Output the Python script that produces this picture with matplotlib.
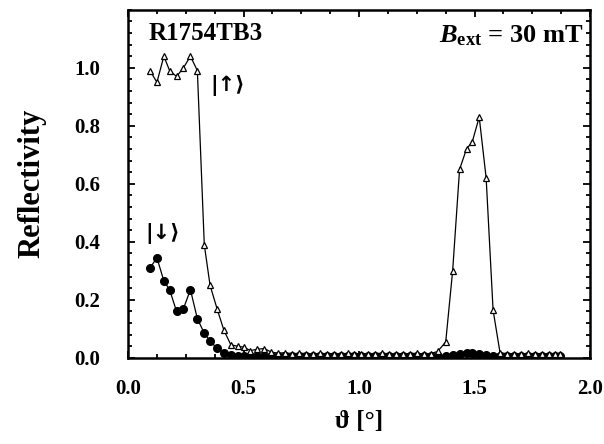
import numpy as np
import matplotlib
matplotlib.use("Agg")
import matplotlib.pyplot as plt
from matplotlib.ticker import MultipleLocator

# angle grid (deg), shared by both spin channels
theta = [0.095, 0.125, 0.155, 0.18, 0.21, 0.24, 0.27, 0.30, 0.33, 0.355,
         0.385, 0.415, 0.445, 0.475, 0.50, 0.53, 0.56, 0.59, 0.62, 0.65,
         0.68, 0.71, 0.74, 0.77, 0.80, 0.83, 0.86, 0.89, 0.92, 0.95,
         0.98, 1.01, 1.04, 1.07, 1.10, 1.13, 1.16, 1.19, 1.22, 1.25,
         1.28, 1.31, 1.34, 1.375, 1.405, 1.435, 1.465, 1.49, 1.52, 1.55,
         1.58, 1.61, 1.64, 1.67, 1.70, 1.73, 1.76, 1.79, 1.82, 1.85, 1.87]

# spin up |up>  (open triangles)
refl_up = [0.99, 0.95, 1.04, 0.99, 0.97, 1.00, 1.04, 0.99, 0.39, 0.25,
           0.17, 0.095, 0.045, 0.040, 0.037, 0.025, 0.030, 0.032, 0.020, 0.016,
           0.018, 0.014, 0.016, 0.015, 0.013, 0.016, 0.014, 0.015, 0.013, 0.016,
           0.014, 0.015, 0.013, 0.015, 0.016, 0.014, 0.013, 0.015, 0.014, 0.016,
           0.013, 0.015, 0.022, 0.055, 0.30, 0.65, 0.72, 0.745, 0.83, 0.62,
           0.165, 0.018, 0.014, 0.015, 0.013, 0.016, 0.014, 0.015, 0.013, 0.014, 0.012]

# spin down |down>  (filled circles)
refl_dn = [0.31, 0.345, 0.265, 0.235, 0.16, 0.17, 0.235, 0.135, 0.085, 0.058,
           0.033, 0.016, 0.010, 0.007, 0.006, 0.005, 0.005, 0.005, 0.005, 0.005,
           0.005, 0.005, 0.005, 0.005, 0.005, 0.005, 0.005, 0.005, 0.005, 0.005,
           0.005, 0.005, 0.005, 0.005, 0.005, 0.005, 0.005, 0.005, 0.005, 0.005,
           0.005, 0.006, 0.007, 0.008, 0.010, 0.014, 0.016, 0.017, 0.015, 0.010,
           0.007, 0.006, 0.005, 0.005, 0.005, 0.005, 0.005, 0.005, 0.005, 0.005, 0.005]

plt.rcParams['font.family'] = ['Liberation Serif', 'DejaVu Serif', 'DejaVu Sans']
plt.rcParams['font.weight'] = 'bold'
plt.rcParams['mathtext.fontset'] = 'custom'
plt.rcParams['mathtext.rm'] = 'Liberation Serif:bold'
plt.rcParams['mathtext.bf'] = 'Liberation Serif:bold'
plt.rcParams['mathtext.it'] = 'Liberation Serif:italic:bold'

fig = plt.figure(figsize=(6.04, 4.44), dpi=100)
ax = fig.add_axes([0.212, 0.194, 0.765, 0.784])

ax.plot(theta, refl_dn, '-', color='black', lw=0.9, marker='o', ms=5.5,
        mfc='black', mec='black')
ax.plot(theta, refl_up, '-', color='black', lw=0.9, marker='^', ms=5,
        mfc='white', mec='black', mew=0.9)

ax.set_xlim(0, 2.0)
ax.set_ylim(0, 1.2)
ax.xaxis.set_major_locator(MultipleLocator(0.5))
ax.xaxis.set_minor_locator(MultipleLocator(0.125))
ax.set_yticks([0.0, 0.2, 0.4, 0.6, 0.8, 1.0])
ax.yaxis.set_minor_locator(MultipleLocator(0.04))
ax.xaxis.set_major_formatter(plt.FormatStrFormatter('%.1f'))
ax.yaxis.set_major_formatter(plt.FormatStrFormatter('%.1f'))
ax.tick_params(which='both', direction='in', top=True, right=True, width=1.3)
ax.tick_params(which='major', length=5, labelsize=15)
ax.tick_params(axis='y', pad=20)
ax.tick_params(axis='x', pad=15)
ax.tick_params(which='minor', length=3)
for lab in ax.get_xticklabels() + ax.get_yticklabels():
    lab.set_fontweight('bold')
for s in ax.spines.values():
    s.set_linewidth(1.8)

ax.set_xlabel('ϑ [°]', fontsize=18, fontweight='bold', labelpad=8)
ax.set_ylabel('Reflectivity', fontsize=22, fontweight='bold', labelpad=20)

ax.text(0.087, 1.118, 'R1754TB3', fontsize=18, fontweight='bold', va='center')
ax.text(1.97, 1.11, r'$B_{\mathrm{ext}}$ = 30 mT', fontsize=19,
        fontweight='bold', ha='right', va='center')
ax.text(0.355, 0.94, '|↑⟩', fontsize=15, fontweight='bold', va='center',
        family=['DejaVu Sans'])
ax.text(0.075, 0.43, '|↓⟩', fontsize=15, fontweight='bold', va='center',
        family=['DejaVu Sans'])

fig.savefig('out.png', dpi=100)
